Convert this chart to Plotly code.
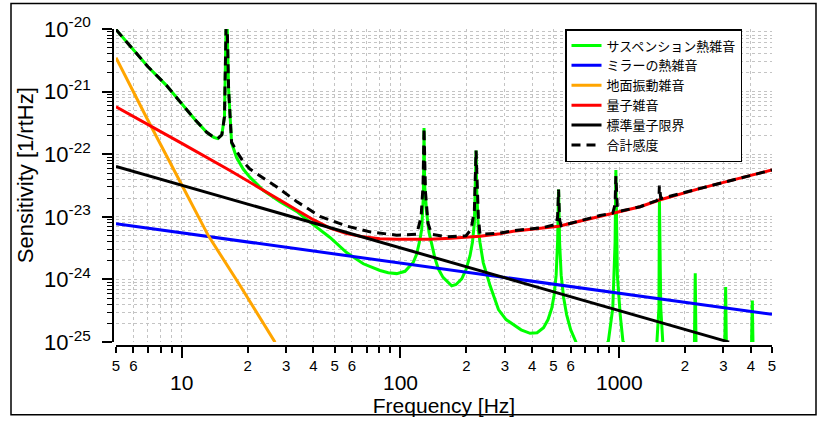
import numpy as np
import plotly.graph_objects as go

# ---------------- data ----------------
freq_susp = [5.0, 7.0, 8.5, 10.0, 11.5, 13.0, 14.0, 14.6, 15.24, 15.67, 15.95, 16.02, 16.37, 16.89,
             17.8, 19.08, 20.48, 23.56, 28.1, 33.5, 39.9, 47.6, 56.7, 67.6, 80.6, 87.9, 96.1, 104.9,
             114.5, 118.6, 122.8, 125.0, 127.2, 128.1, 129.1, 131.8, 135.0, 138.9, 143.9, 148.9,
             156.5, 171.5, 179.5, 190.6, 199.4, 208, 213.5, 217.7, 220.4, 221.6, 223.3, 227, 231,
             239, 257, 280.6, 304, 328, 356, 391.5, 421.4, 451, 473, 492, 504, 515, 523, 528.4, 534,
             543, 557, 575, 600, 631, 740, 893, 935, 958, 966, 981, 1011, 1040, 1250, 1488, 1520,
             1528, 1550, 1583, 1850, 2204, 2228, 2251, 2650, 3033, 3069, 3098, 3550, 4019, 4064,
             4105, 5000]
susp = [9.8e-21, 2.5e-21, 1.26e-21, 6.3e-22, 3.55e-22, 2.24e-22, 1.86e-22, 1.78e-22, 2.04e-22,
        3.98e-22, 3.47e-21, 3.2e-20, 1.05e-21, 1.52e-22, 8.85e-23, 5.8e-23, 4.3e-23, 2.66e-23,
        1.74e-23, 1.22e-23, 7.5e-24, 4.68e-24, 2.69e-24, 1.78e-24, 1.39e-24, 1.28e-24, 1.24e-24,
        1.35e-24, 1.88e-24, 2.55e-24, 4.38e-24, 6.3e-24, 2.09e-23, 2.63e-22, 3.0e-23, 1.15e-23,
        5.7e-24, 3.47e-24, 2.15e-24, 1.48e-24, 1.08e-24, 7.9e-25, 8.3e-25, 1.02e-24, 1.44e-24,
        2.4e-24, 4.0e-24, 7.9e-24, 3.0e-23, 1.15e-22, 2.5e-23, 6.3e-24, 3.9e-24, 1.86e-24,
        7.9e-25, 3.3e-25, 2.29e-25, 1.9e-25, 1.57e-25, 1.38e-25, 1.41e-25, 1.7e-25, 2.29e-25,
        3.5e-25, 5.6e-25, 1.17e-24, 4.0e-24, 2.72e-23, 4.0e-24, 1.17e-24, 5.2e-25, 2.75e-25,
        1.58e-25, 1.05e-25, 2.5e-26, 1.05e-25, 3.5e-25, 3.9e-24, 5.6e-23, 1.17e-24, 2.75e-25,
        1.05e-25, 2.5e-26, 1.0e-25, 3.5e-25, 1.86e-23, 3.5e-25, 1.0e-25, 2.5e-26, 5.0e-26,
        1.26e-24, 5.0e-26, 2.5e-26, 5.0e-26, 7.6e-25, 5.0e-26, 2.5e-26, 5.0e-26, 4.6e-25,
        5.0e-26, 2.5e-26]

freq_mirror = [5, 5000]
mirror = [7.74e-24, 2.78e-25]

freq_seis = [5, 6.92, 10, 13.25, 18.43, 26.7]
seis = [3.48e-21, 3.75e-22, 3.22e-23, 4.93e-24, 8.1e-25, 9.9e-26]

freq_qn = [5, 7.3, 10, 16.6, 23.5, 28.1, 33.5, 39.9, 47.6, 56.7, 67.6, 80.5, 96, 136.5, 170, 231,
           285, 328, 529, 818, 966, 1247, 1528, 2328, 3500, 5000]
qn = [5.71e-22, 2.78e-22, 1.49e-22, 5.5e-23, 2.66e-23, 1.86e-23, 1.29e-23, 9.0e-24, 6.6e-24,
      5.43e-24, 4.79e-24, 4.47e-24, 4.37e-24, 4.37e-24, 4.57e-24, 4.9e-24, 5.37e-24, 5.9e-24,
      7.1e-24, 1.02e-23, 1.17e-23, 1.45e-23, 1.86e-23, 2.82e-23, 4.07e-23, 5.6e-23]

freq_sql = [5, 3184]
sql = [6.4e-23, 1.0e-25]

freq_total = [5.0, 7.0, 8.5, 10.0, 11.5, 13.0, 14.0, 14.6, 15.24, 15.67, 15.95, 16.02, 16.37, 16.89,
              17.8, 19.08, 20.48, 27.1, 33.5, 42.8, 56.7, 72.5, 96, 118.6, 124.2, 126.8, 128.1,
              130.1, 133.6, 138.9, 162.7, 199.4, 210.2, 217.7, 221.6, 227, 231, 285, 328, 450, 515,
              523, 528.4, 534, 543, 631, 818, 935, 958, 966, 981, 1011, 1247, 1488, 1520, 1528,
              1550, 2328, 3500, 5000]
total = [9.8e-21, 2.5e-21, 1.26e-21, 6.3e-22, 3.55e-22, 2.24e-22, 1.86e-22, 1.78e-22, 2.04e-22,
         3.98e-22, 3.47e-21, 3.2e-20, 1.05e-21, 1.55e-22, 1.12e-22, 7.6e-23, 5.8e-23, 3.02e-23,
         1.76e-23, 1.02e-23, 7.13e-24, 5.75e-24, 5.1e-24, 5.28e-24, 1.0e-23, 3.16e-23, 2.63e-22,
         2.5e-23, 7.9e-24, 5.25e-24, 4.8e-24, 5.0e-24, 6.3e-24, 1.26e-23, 1.15e-22, 1.0e-23,
         5.25e-24, 5.5e-24, 6.0e-24, 6.76e-24, 7.6e-24, 1.0e-23, 2.72e-23, 8.9e-24, 7.2e-24,
         8.3e-24, 1.05e-23, 1.15e-23, 1.58e-23, 4.47e-23, 1.41e-23, 1.23e-23, 1.45e-23, 1.82e-23,
         2.0e-23, 3.16e-23, 1.95e-23, 2.82e-23, 4.07e-23, 5.6e-23]

names = ["サスペンション熱雑音", "ミラーの熱雑音", "地面振動雑音", "量子雑音", "標準量子限界", "合計感度"]
colors = ["#00ff00", "#0000ff", "#ffa500", "#ff0000", "#000000", "#000000"]

x_title = "Frequency [Hz]"
y_title = "Sensitivity [1/rtHz]"

# ticks
x_ticks = [5, 6, 7, 8, 9, 20, 30, 40, 50, 60, 70, 80, 90, 200, 300, 400, 500, 600, 700, 800, 900,
           2000, 3000, 4000, 5000]
x_tick_text = ["5", "6", "", "", "", "2", "3", "4", "5", "6", "", "", "", "2", "3", "4", "5", "6",
               "", "", "", "2", "3", "4", "5"]
x_decades = [10, 100, 1000]
x_decade_text = ["10", "100", "1000"]
y_decades = [1e-25, 1e-24, 1e-23, 1e-22, 1e-21, 1e-20]
y_tick_text = ["10<sup>-25</sup>", "10<sup>-24</sup>", "10<sup>-23</sup>", "10<sup>-22</sup>",
               "10<sup>-21</sup>", "10<sup>-20</sup>"]
y_minor = [m * d for d in y_decades[:-1] for m in range(2, 10)]

# ---------------- figure ----------------
series = [(freq_susp, susp), (freq_mirror, mirror), (freq_seis, seis), (freq_qn, qn),
          (freq_sql, sql), (freq_total, total)]

fig = go.Figure()
for i, ((fx, fy), nm, col) in enumerate(zip(series, names, colors)):
    dash = "9px,6px" if i == 5 else "solid"
    fig.add_trace(go.Scatter(x=fx, y=fy, mode="lines", name=nm,
                             line=dict(color=col, width=3, dash=dash)))

W, H = 822, 425
ml, mr, mt, mb = 113, 50, 29, 73
pw, ph = W - ml - mr, H - mt - mb

grid = dict(showgrid=True, gridcolor="#c4c4c4", gridwidth=1, griddash="dot")
tickfont = dict(family="Liberation Sans, Arial, sans-serif", color="black")

fig.update_layout(
    width=W, height=H, margin=dict(l=ml, r=mr, t=mt, b=mb),
    paper_bgcolor="white", plot_bgcolor="white", showlegend=True,
    font=dict(family="Liberation Sans, Arial, sans-serif", color="black"),
    xaxis=dict(type="log", range=[np.log10(5), np.log10(5000)], domain=[3 / pw, 1],
               anchor="free", position=0,
               tickvals=x_ticks, ticktext=x_tick_text, tickfont=dict(size=15, **tickfont),
               ticks="outside", ticklen=6, tickwidth=1.5, tickcolor="black",
               showline=True, linecolor="black", linewidth=1.5,
               minor=dict(tickvals=x_decades, ticks="outside", ticklen=11, tickwidth=1.5,
                          tickcolor="black", **grid),
               title=dict(text=x_title, font=dict(size=21, **tickfont), standoff=25),
               **grid),
    yaxis=dict(type="log", range=[-25, -20], domain=[4 / ph, 1], anchor="free", position=0,
               tickvals=y_decades, ticktext=y_tick_text, tickfont=dict(size=22, **tickfont),
               ticks="outside", ticklen=10, tickwidth=1.5, tickcolor="black",
               ticklabelstandoff=7,
               showline=True, linecolor="black", linewidth=1.5,
               minor=dict(tickvals=y_minor, ticks="outside", ticklen=5, tickwidth=1,
                          tickcolor="black", **grid),
               **grid),
    legend=dict(x=(565 - ml) / pw, y=1.0, xanchor="left", yanchor="top",
                bgcolor="white", bordercolor="black", borderwidth=1.5,
                font=dict(family="Noto Sans CJK JP", size=13, color="black"),
                tracegroupgap=0),
)

for v, t in zip(x_decades, x_decade_text):
    fig.add_annotation(x=np.log10(v), xref="x", y=0, yref="paper", text=t, showarrow=False,
                       yanchor="middle", yshift=-36, font=dict(size=21, **tickfont))

# y-axis title (placed like the reference)
fig.add_annotation(x=(25 - ml) / pw, xref="paper", y=(ph - (178 - mt)) / ph, yref="paper",
                   text=y_title, textangle=-90, showarrow=False, xanchor="center",
                   yanchor="middle", font=dict(size=22, **tickfont))

# outer frame
fig.add_shape(type="rect", xref="paper", yref="paper",
              x0=(11 - ml) / pw, x1=(816 - ml) / pw,
              y0=(ph - (422 - mt)) / ph, y1=(ph - (3 - mt)) / ph,
              line=dict(color="black", width=1.5), layer="below")

fig.write_html("out.html")
